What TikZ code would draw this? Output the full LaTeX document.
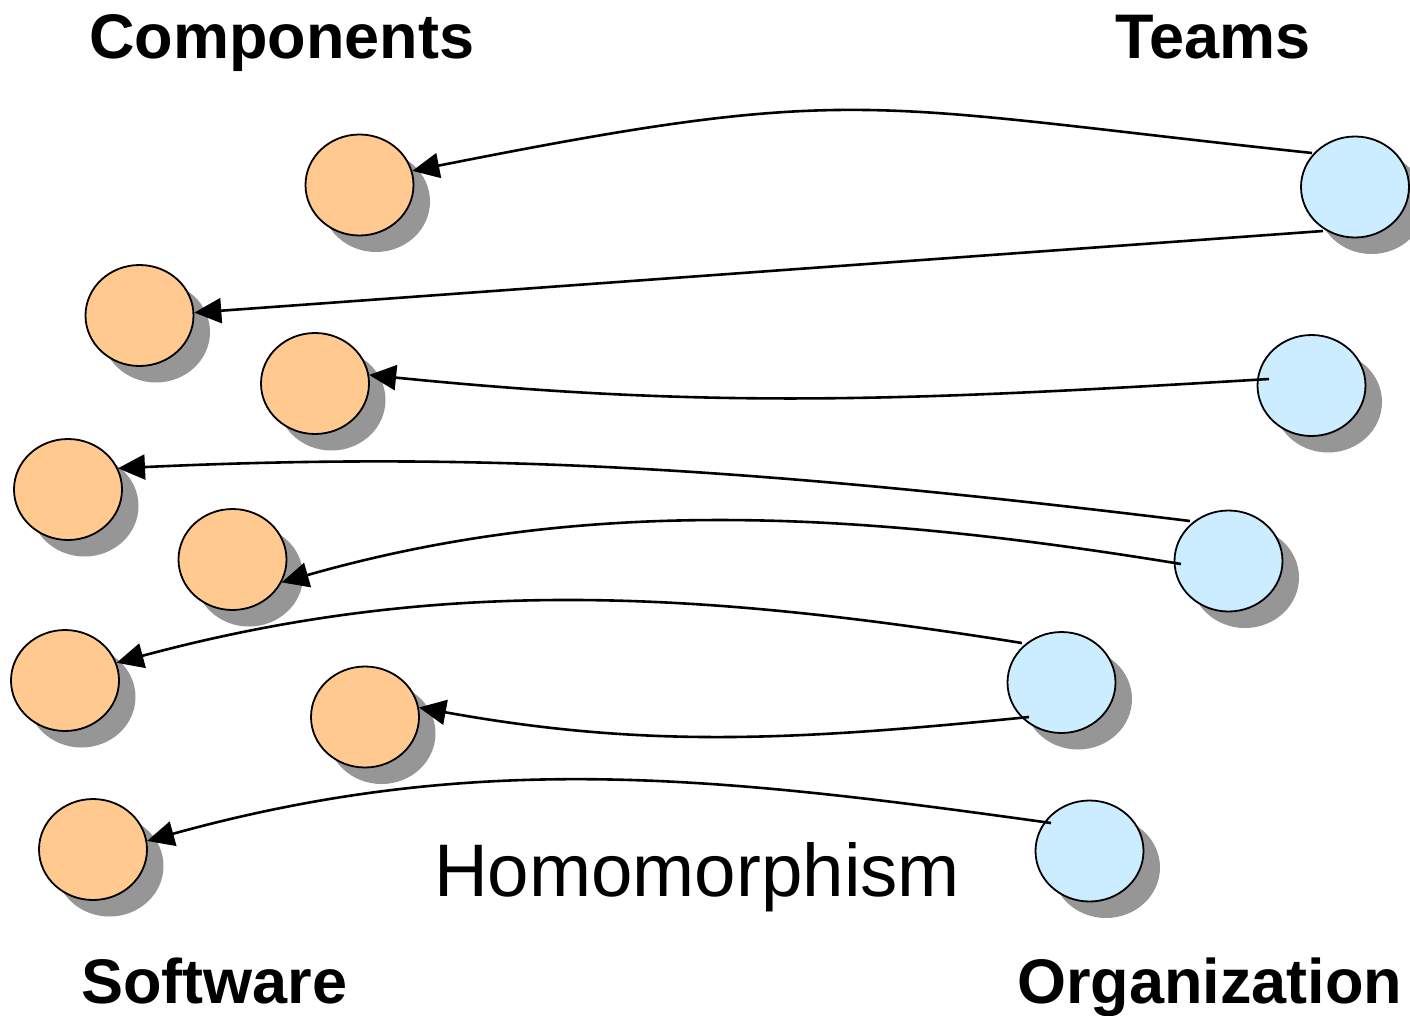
\documentclass[tikz,border=0pt]{standalone}
\usepackage{fontspec}
\setmainfont{Liberation Sans}
\usetikzlibrary{shapes.geometric,shadows,arrows.meta}
\definecolor{compfill}{RGB}{255,201,144}
\definecolor{teamfill}{RGB}{204,236,255}
\definecolor{shadegray}{RGB}{150,150,150}
\begin{document}
\begin{tikzpicture}[x=1pt,y=-1pt,
  blob/.style={ellipse, draw=black, line width=1.8pt, inner sep=0pt,
    minimum width=108pt, minimum height=101pt,
    drop shadow={shadow xshift=16.5pt, shadow yshift=-16.5pt, fill=shadegray, opacity=1}},
  comp/.style={blob, fill=compfill},
  team/.style={blob, fill=teamfill},
  link/.style={line width=2.6pt, -{Triangle[length=27pt,width=25pt]}},
  heading/.style={anchor=base west, inner sep=0pt, font=\fontsize{63}{70}\selectfont\bfseries},
  caption/.style={anchor=base west, inner sep=0pt, font=\fontsize{74.5}{80}\selectfont}]
\useasboundingbox (0,0) rectangle (1410,1015);

% software components
\node[comp] (c1) at (359.5,185) {};
\node[comp] (c2) at (139.5,315.5) {};
\node[comp] (c3) at (315,383.5) {};
\node[comp] (c4) at (68,489.5) {};
\node[comp] (c5) at (232.5,559.5) {};
\node[comp] (c6) at (65,680.5) {};
\node[comp] (c7) at (365,717) {};
\node[comp] (c8) at (93,849.5) {};

% organization teams
\node[team] (t1) at (1355,187) {};
\node[team] (t2) at (1311.5,385.5) {};
\node[team] (t3) at (1228.5,561) {};
\node[team] (t4) at (1061.5,682.5) {};
\node[team] (t5) at (1089.5,851) {};

% team -> component mappings
\draw[link] ([shift={(-43,-34)}]t1.center) .. controls (862,105) and (859,82) .. (c1.15);
\draw[link] ([shift={(-32,44)}]t1.center) -- (c2.3);
\draw[link] ([shift={(-42.5,-6.5)}]t2.center) .. controls (919,400) and (718,410) .. (c3.9);
\draw[link] ([shift={(-38.5,-40)}]t3.center) .. controls (740,466) and (471,452) .. (c4.23);
\draw[link] ([shift={(-47.5,3)}]t3.center) .. controls (851,510) and (581,497) .. (c5.-25);
\draw[link] ([shift={(-39.5,-39.5)}]t4.center) .. controls (702,592) and (442,575) .. (c6.19);
\draw[link] ([shift={(-32.5,34.5)}]t4.center) .. controls (799,740) and (648,749) .. (c7.10);
\draw[link] ([shift={(-38.5,-28)}]t5.center) .. controls (721,777) and (479,749) .. (c8.9);

% labels
\node[heading] (hcomp) at (89,58) {Components};
\node[heading] (hteam) at (1115,58) {Teams};
\node[heading] (hsoft) at (81,1003) {Software};
\node[heading] (horg) at (1017,1003) {Organization};
\node[caption] (hom) at (434,896) {Homomorphism};
\end{tikzpicture}
\end{document}
